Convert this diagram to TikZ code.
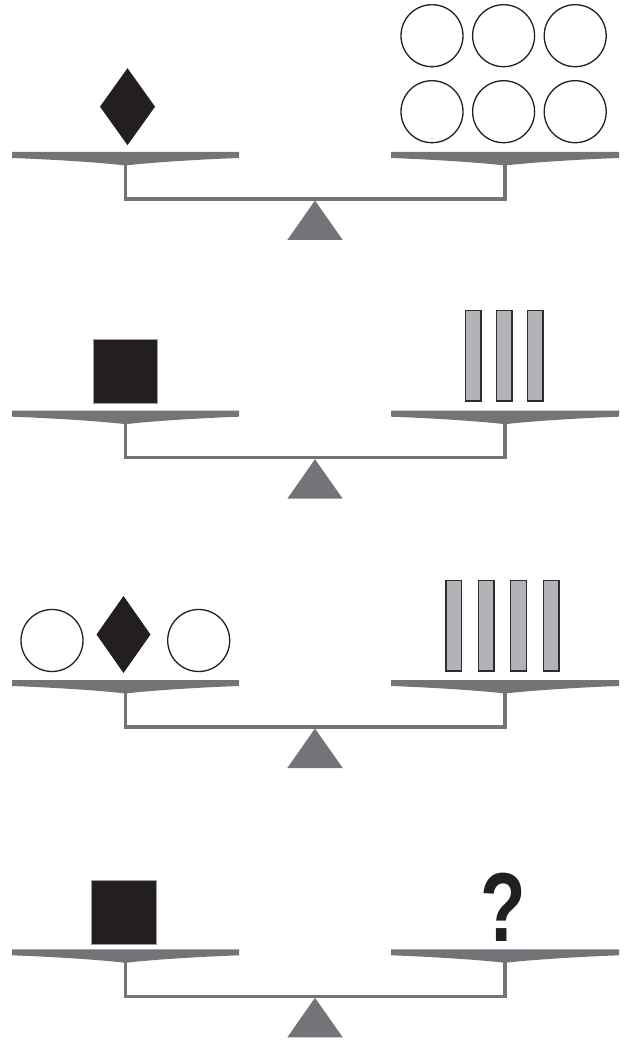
\documentclass[tikz,border=0pt]{standalone}
\usepackage{fontspec}
\usepackage{graphicx}
\newfontfamily\qfont{Liberation Sans}
\definecolor{beamgray}{RGB}{115,116,120}
\definecolor{inkblack}{RGB}{35,31,32}
\definecolor{barfill}{RGB}{178,179,183}
\definecolor{bardraw}{RGB}{45,45,48}
\tikzset{
  pangray/.style={fill=beamgray},
  beamline/.style={draw=beamgray, line width=3.2pt, miter limit=10},
  fulcrum/.style={fill=beamgray},
  ball/.style={draw=inkblack, line width=1.3pt, fill=white},
  gem/.style={fill=inkblack},
  block/.style={fill=inkblack, draw=beamgray!70, line width=0.6pt},
  bar/.style={fill=barfill, draw=bardraw, line width=1.2pt},
  balance/.pic={
    \fill[pangray] (12,152) -- (239,152) -- (239,158) .. controls (195,159.6) and (150,162.6) .. (125.5,165.5)
       .. controls (101,162.6) and (56,159.6) .. (12,158) -- cycle;
    \fill[pangray] (391,152) -- (619,152) -- (619,158) .. controls (575,159.6) and (530,162.6) .. (505,165.5)
       .. controls (480,162.6) and (435,159.6) .. (391,158) -- cycle;
    \draw[beamline] (125.5,162) -- (125.5,199) -- (505,199) -- (505,162);
    \fill[fulcrum] (315,200.5) -- (342.7,240) -- (287.3,240) -- cycle;
  }
}
\begin{document}
\begin{tikzpicture}[x=1pt,y=-1pt]
\useasboundingbox (0,0) rectangle (626,1040);
% scales
\pic at (0,0) {balance};
\pic at (0,258.7) {balance};
\pic at (0,528) {balance};
\pic at (0,797.3) {balance};
% scale 1
\fill[gem] (127.5,68.2) -- (155,106.7) -- (127.5,145.2) -- (100,106.7) -- cycle;
\foreach \cx in {432,503.6,575.2}{
  \draw[ball] (\cx,35.7) circle (31);
  \draw[ball] (\cx,111.7) circle (31);
}
% scale 2
\draw[block] (93.3,339) rectangle (157.7,403.3);
\foreach \bx in {465.7,496.7,527.7}{
  \draw[bar] (\bx,310.7) rectangle ++(15.3,90.3);
}
% scale 3
\draw[ball] (52,640.5) circle (31);
\draw[ball] (198.7,640.5) circle (31);
\fill[gem] (123.5,596) -- (150.5,634.5) -- (123.5,673) -- (96.5,634.5) -- cycle;
\foreach \bx in {446,478.3,510.7,543.3}{
  \draw[bar] (\bx,580.7) rectangle ++(15.6,90.3);
}
% scale 4
\draw[block] (91.7,880) rectangle (156,944);
\node[anchor=base, inner sep=0pt, text=inkblack, font={\qfont\bfseries\fontsize{98}{98}\selectfont}] (q) at (503,941.7) {\scalebox{0.76}[1]{?}};
\end{tikzpicture}
\end{document}
